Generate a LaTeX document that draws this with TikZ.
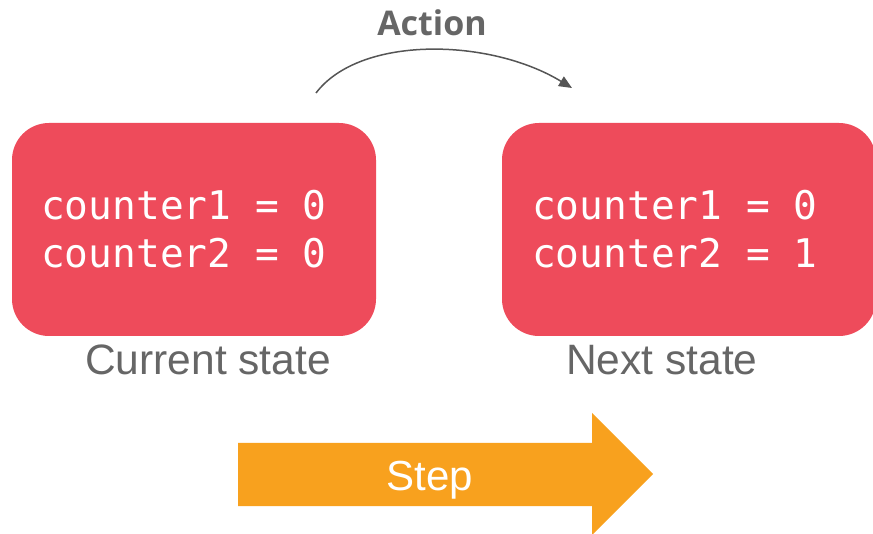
\documentclass[tikz,border=0pt]{standalone}
\usepackage{fontspec}
\setmainfont{Liberation Sans}
\newfontfamily\codefont{DejaVu Sans Mono}
\newfontfamily\actfont{Open Sans}
\usetikzlibrary{arrows.meta}
\definecolor{boxred}{HTML}{EE4B5B}
\definecolor{labelgrey}{HTML}{666666}
\definecolor{arcgrey}{HTML}{555555}
\definecolor{steporange}{HTML}{F8A11E}
\tikzset{
  statebox/.style={fill=boxred, rounded corners=37pt, inner sep=0pt, draw=none},
  codetext/.style={text=white, inner sep=0pt, anchor=base west, font=\codefont\fontsize{39.5}{48}\selectfont},
  statelabel/.style={text=labelgrey, inner sep=0pt, anchor=base west, font=\fontsize{42.5}{48}\selectfont},
  actlabel/.style={text=labelgrey, inner sep=0pt, anchor=base, font=\actfont\bfseries\fontsize{34}{40}\selectfont},
  steplabel/.style={text=white, inner sep=0pt, anchor=base, font=\fontsize{42}{48}\selectfont},
  actarrow/.style={draw=arcgrey, line width=1.5pt, -{Triangle[length=13pt,width=11pt]}},
}
\begin{document}
\begin{tikzpicture}[x=1pt,y=-1pt]
\useasboundingbox (0,0) rectangle (873,534);
% state boxes
\node[statebox, minimum width=364pt, minimum height=213pt] (cur) at (194,229.5) {};
\node[statebox, minimum width=374pt, minimum height=213pt] (nxt) at (689,229.5) {};
% code text
\node[codetext] (cura) at (41,219.5) {counter1 = 0};
\node[codetext] (curb) at (41,267.5) {counter2 = 0};
\node[codetext] (nxta) at (532,219.5) {counter1 = 0};
\node[codetext] (nxtb) at (532,267.5) {counter2 = 1};
% labels
\node[statelabel] (curlbl) at (85,375) {Current state};
\node[statelabel] (nxtlbl) at (566,375) {Next state};
% action arc
\node[actlabel] (actlbl) at (432,36) {Action};
\coordinate (arcstart) at (316,93);
\coordinate (arcend) at (572,88);
\draw[actarrow] (arcstart) .. controls (360,35) and (490,38) .. (arcend);
% step arrow
\fill[steporange] (238,443) -- (592,443) -- (592,413) -- (653,474) -- (592,535) -- (592,506) -- (238,506) -- cycle;
\node[steplabel] (steplbl) at (430,490) {Step};
\end{tikzpicture}
\end{document}
